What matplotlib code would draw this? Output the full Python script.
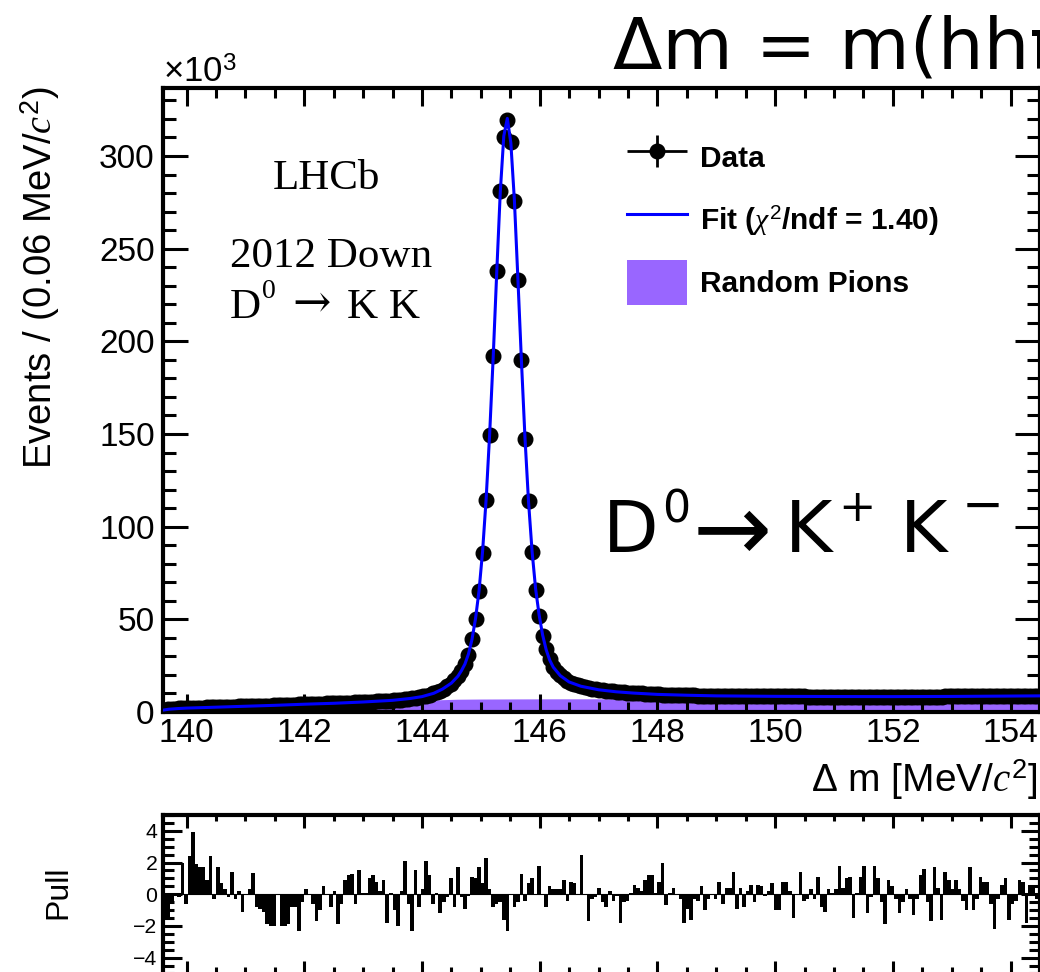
import numpy as np
import matplotlib
matplotlib.use("Agg")
import matplotlib.pyplot as plt
from matplotlib.ticker import MultipleLocator
from matplotlib.container import ErrorbarContainer
from matplotlib.legend_handler import HandlerErrorbar

plt.rcParams['font.family'] = ['Liberation Sans', 'DejaVu Sans']
plt.rcParams['mathtext.fontset'] = 'custom'
plt.rcParams['mathtext.rm'] = 'Liberation Sans'
plt.rcParams['mathtext.it'] = 'Liberation Serif:italic'
plt.rcParams['mathtext.bf'] = 'Liberation Sans:bold'

# delta-m histogram, 0.06 MeV bins from 139.60 to 154.48, events in units of 1e3
dm_lo, dm_hi = 139.6, 154.5
bin_w = 0.06
counts = [
    1.2, 1.5, 1.7, 1.8, 1.9, 2.0, 2.05, 2.1, 2.2, 2.25,
    2.3, 2.4, 2.45, 2.5, 2.55, 2.6, 2.7, 2.75, 2.8, 2.85,
    2.9, 3.0, 3.05, 3.1, 3.15, 3.2, 3.3, 3.35, 3.4, 3.45,
    3.5, 3.6, 3.65, 3.7, 3.8, 3.85, 3.9, 4.0, 4.05, 4.1,
    4.2, 4.25, 4.3, 4.4, 4.45, 4.5, 4.6, 4.65, 4.7, 4.8,
    4.85, 4.9, 5.0, 5.1, 5.15, 5.2, 5.3, 5.4, 5.5, 5.6,
    5.7, 5.8, 5.9, 6.0, 6.2, 6.3, 6.5, 6.7, 6.9, 7.1,
    7.4, 7.7, 8.0, 8.4, 8.9, 9.4, 10.0, 10.7, 11.6, 12.6,
    13.8, 15.3, 17.1, 19.3, 22.2,
    25.7, 31.0, 39.6, 50.0, 65.4, 86.0, 114.4, 149.6, 192.0, 238.0,
    281.0, 310.0, 319.5, 307.7, 275.8, 233.0, 189.7, 147.4, 114.0, 86.5,
    66.0, 51.9, 41.0, 33.8, 28.4,
    24.5, 21.8, 19.7, 18.1, 16.8, 15.8, 15.0, 14.3, 13.8, 13.3,
    12.9, 12.6, 12.3, 12.0, 11.8, 11.5, 11.3, 11.1, 10.9, 10.8,
    10.6, 10.5, 10.3, 10.2, 10.1, 10.0, 9.9, 9.8, 9.7, 9.6,
    9.5, 9.4, 9.35, 9.3, 9.25, 9.2, 9.15, 9.1, 9.05, 9.0,
    8.95, 8.9, 8.85, 8.8, 8.8, 8.75, 8.7, 8.7, 8.65, 8.6,
    8.6, 8.6, 8.55, 8.55, 8.55, 8.5, 8.5, 8.5, 8.5, 8.45,
    8.45, 8.45, 8.45, 8.45, 8.4, 8.4, 8.4, 8.4, 8.4, 8.4,
    8.4, 8.4, 8.35, 8.35, 8.35, 8.35, 8.35, 8.35, 8.35, 8.35,
    8.3, 8.3, 8.3, 8.3, 8.3, 8.3, 8.3, 8.3, 8.3, 8.3,
    8.3, 8.3, 8.3, 8.3, 8.3, 8.3, 8.3, 8.3, 8.3, 8.3,
    8.3, 8.3, 8.3, 8.3, 8.3, 8.35, 8.35, 8.35, 8.35, 8.35,
    8.35, 8.4, 8.4, 8.4, 8.4, 8.4, 8.45, 8.45, 8.45, 8.45,
    8.5, 8.5, 8.5, 8.5, 8.55, 8.55, 8.55, 8.6, 8.6, 8.6,
    8.6, 8.65, 8.65, 8.65, 8.7, 8.7, 8.7, 8.7,
]

# total fit curve
fit_dm = [139.6, 139.7, 139.85, 140.0, 140.5, 141.0, 141.5, 142.0, 142.5, 143.0,
          143.5, 143.8, 144.0, 144.2, 144.35, 144.5, 144.61,
          144.67, 144.73, 144.79, 144.85, 144.91, 144.97, 145.03, 145.09, 145.15,
          145.21, 145.27, 145.33, 145.39, 145.45, 145.51, 145.57, 145.63, 145.69,
          145.75, 145.81, 145.87, 145.93, 145.99, 146.05, 146.11, 146.17, 146.23,
          146.35, 146.5, 146.7, 147.0, 147.3, 147.6, 148.0, 148.5, 149.0, 150.0,
          151.0, 152.0, 153.0, 154.0, 154.5]
fit_val = [1.0, 1.5, 1.85, 2.1, 2.6, 3.1, 3.6, 4.2, 4.7, 5.4,
           6.3, 7.3, 8.3, 10.1, 12.4, 15.6, 19.3,
           22.3, 25.9, 31.3, 39.2, 50.4, 65.6, 86.8, 114.9, 150.2,
           191.5, 237.2, 280.4, 310.8, 320.3, 307.0, 276.2, 233.5, 189.2,
           147.9, 113.6, 86.9, 66.6, 52.4, 41.5, 33.6, 28.0, 24.2,
           19.6, 16.2, 13.9, 12.0, 10.9, 10.2, 9.5, 9.05, 8.7, 8.45,
           8.35, 8.3, 8.4, 8.6, 8.7]

# random pion background component
rp_dm = [139.6, 139.7, 140.0, 140.5, 141.0, 141.5, 142.0, 142.5, 143.0, 143.5,
         144.0, 144.3, 144.6, 145.0, 146.0, 148.0, 150.0, 152.0, 154.5]
rp_val = [0.3, 0.7, 1.1, 1.6, 2.1, 2.6, 3.1, 3.7, 4.3, 4.9,
          6.0, 6.6, 6.9, 7.0, 7.1, 7.2, 7.2, 7.2, 7.2]

# pull per bin
pulls = [
    -1.6, -1.5, -0.4, 0.1, -0.2, 2.0, -0.6, 2.4, 3.9, 1.9,
    1.7, 1.7, 0.9, 2.4, -0.3, 1.7, 0.7, 0.35, -0.2, 1.4,
    -0.3, 0.2, -1.1, 0.0, 0.3, 1.35, -0.8, -0.9, -1.1, -1.9,
    -2.0, -2.0, 0.0, -2.0, -2.0, -1.9, -0.8, -0.8, -2.3, -0.5,
    0.3, 0.0, -0.6, -1.7, -1.0, 0.5, 0.0, -0.8, 0.2, -1.9,
    -0.6, 0.9, 1.2, 1.3, -0.6, 1.5, 0.1, 0.1, 1.0, 1.2,
    0.8, 0.2, 0.9,
    -1.8, 0.1, -1.0, -2.0, 0.2, 2.1, -0.6, -2.3, 1.5, -0.8,
    0.3, 2.1, 1.2, -0.6, 0.1, -1.2, -0.5, -0.2, 1.0, -0.8,
    1.7, -0.2, -0.9, -0.1, 1.1, 1.0, 1.7, 0.7, 2.3, 0.3,
    -0.8, -0.6, -0.5, -1.6, -2.3, 0.0, -0.8, -0.5, 1.3, -0.4,
    0.7, 1.0, 0.0, 1.8, 0.0, -0.8, 0.5, 0.3, 0.3, 0.3,
    0.9, -0.4, 0.8, 0.7, 0.0, 2.5, 0.0, -1.7, -0.3, -0.2,
    0.4, -0.5,
    -0.8, 0.2, -0.4, -0.1, -1.8, -0.5, -0.4, 0.1, 0.6, 0.4,
    0.2, 0.9, 1.2, 1.2, 0.1, 0.8, 2.0, -0.7, 0.1, 0.4,
    0.0, -0.3, -1.8, -0.9, -1.6, -0.3, -0.4, 0.5, -1.0, -0.3,
    0.0, -0.3, 0.8, -0.6, 0.4, 0.4, 1.4, -0.9, 0.4, -0.8,
    0.2, 0.6, -0.5, 0.6, 0.5, -0.1, 0.2, 0.7, -1.0, -1.0,
    0.8, 0.8, 0.2, -1.5, 0.0, 1.4, -0.4, -0.3, 0.3, -0.3,
    1.1, -0.8,
    -1.1, 0.3, 0.1, 0.3, 1.8, 0.4, 1.0, 1.1, -1.5, 0.1,
    1.1, 1.8, -1.2, -0.2, 1.8, 1.0, -0.5, -1.9, 0.9, 0.5,
    -0.3, -1.2, -0.5, 0.3, -0.3, -1.3, -0.3, 1.2, 1.6, -0.5,
    -1.7, 1.7, 0.4, -1.6, 1.4, 0.9, 0.3, 0.9, 0.3, -0.4,
    -1.0, 1.7, -1.0, -0.3, 1.1, 0.8, 0.8, -0.6, -2.2, -0.3,
    0.6, 1.0, -1.6, -0.6, -0.4, 0.9, 0.8, -1.8, 0.6, 0.4,
    -0.3,
]
assert len(counts) == len(pulls)

centers = dm_lo + bin_w * (np.arange(len(counts)) + 0.5)
counts = np.array(counts)
errs = np.sqrt(counts * 1000.0) / 1000.0

W, H = 1040, 972


def fx(x):
    return x / W


def fy(y):
    return 1 - y / H


fig = plt.figure(figsize=(W / 100, H / 100), dpi=100)
ax = fig.add_axes([fx(163), fy(712), (1040 - 163) / W, (712 - 88) / H])
axp = fig.add_axes([fx(163), fy(973.5), (1040 - 163) / W, (973.5 - 815) / H])

violet = '#9966ff'
rp = ax.fill_between(rp_dm, 0, rp_val, color=violet, lw=0, zorder=1,
                     label='Random Pions')
data = ax.errorbar(centers, counts, xerr=bin_w / 2, yerr=errs, fmt='o',
                   color='black', ms=10.5, elinewidth=2, capsize=0, zorder=2,
                   label='Data')
fit, = ax.plot(fit_dm, fit_val, color='blue', lw=2.2, zorder=3,
               label=r'Fit ($\chi^{2}$/ndf = 1.40)')

ax.set_xlim(dm_lo, dm_hi)
ax.set_ylim(0, 336.7)
ax.xaxis.set_major_locator(MultipleLocator(2))
ax.xaxis.set_minor_locator(MultipleLocator(0.5))
ax.yaxis.set_major_locator(MultipleLocator(50))
ax.yaxis.set_minor_locator(MultipleLocator(10))
ax.tick_params(which='both', direction='in', top=True, right=True,
               width=2.2, labelsize=24)
ax.tick_params(axis='y', which='major', length=18, pad=6)
ax.tick_params(axis='y', which='minor', length=9.5)
ax.tick_params(axis='x', which='major', length=13, pad=4)
ax.tick_params(axis='x', which='minor', length=7)
for s in ax.spines.values():
    s.set_linewidth(3)

leg = ax.legend([data, fit, rp], ['Data', r'Fit ($\chi^{2}$/ndf = 1.40)', 'Random Pions'],
                loc='upper left', bbox_to_anchor=(fx(627), fy(135)),
                bbox_transform=fig.transFigure, frameon=False,
                prop={'family': 'Liberation Sans', 'weight': 'bold', 'size': 21.5},
                handlelength=2.0, handleheight=1.95, handletextpad=0.44,
                labelspacing=0.58, borderpad=0, borderaxespad=0,
                handler_map={ErrorbarContainer: HandlerErrorbar(xerr_size=1.0, yerr_size=0.55)})

# pull panel
axp.bar(centers, pulls, width=bin_w, color='black', lw=0)
axp.axhline(0, color='black', lw=0.8)
axp.set_xlim(dm_lo, dm_hi)
axp.set_ylim(-5, 5)
axp.xaxis.set_major_locator(MultipleLocator(2))
axp.xaxis.set_minor_locator(MultipleLocator(0.5))
axp.yaxis.set_major_locator(MultipleLocator(2))
axp.yaxis.set_minor_locator(MultipleLocator(0.5))
axp.tick_params(which='both', direction='in', top=True, right=True,
                width=2.2, labelsize=15.3, labelbottom=False)
axp.tick_params(axis='y', which='major', length=14, pad=4)
axp.tick_params(axis='y', which='minor', length=8)
axp.tick_params(axis='x', which='major', length=9)
axp.tick_params(axis='x', which='minor', length=4)
for s in axp.spines.values():
    s.set_linewidth(3)

# axis titles
fig.text(fx(40), fy(86), r'Events / (0.06 MeV/$c^{2}$)', rotation=90,
         ha='center', va='top', fontsize=27.5)
fig.text(fx(1038), fy(792), r'$\Delta$ m [MeV/$c^{2}$]', ha='right',
         va='baseline', fontsize=28)
fig.text(fx(58), fy(892), 'Pull', rotation=90, ha='center', va='center',
         fontsize=23)
fig.text(fx(163), fy(83), r'$\times$10$^{3}$', ha='left', va='baseline',
         fontsize=25)

# labels inside the frame
serif = ['Liberation Serif', 'DejaVu Serif']
fig.text(fx(273), fy(189), 'LHCb', family=serif, fontsize=31, va='baseline')
fig.text(fx(230), fy(267), '2012 Down', family=serif, fontsize=31, va='baseline')
fig.text(fx(230), fy(318), 'D', family=serif, fontsize=31, va='baseline')
fig.text(fx(262), fy(298), '0', family=serif, fontsize=20, va='baseline')
fig.text(fx(292), fy(316), '\u2192', family='DejaVu Serif', fontsize=33, va='baseline')
fig.text(fx(347), fy(318), 'K K', family=serif, fontsize=31, va='baseline')

# big header and decay mode label
big = 'DejaVu Sans'
fig.text(fx(613), fy(68), '\u0394m = m(hh\u03c0) \u2212 m(hh)', family=big,
         fontsize=52, va='baseline')
fig.text(fx(603), fy(552), 'D', family=big, fontsize=52, va='baseline')
fig.text(fx(662), fy(522), '0', family=big, fontsize=32, va='baseline')
fig.text(fx(693), fy(560), '\u2192', family=big, fontsize=68, va='baseline')
fig.text(fx(785), fy(552), 'K', family=big, fontsize=52, va='baseline')
fig.text(fx(838), fy(521), '+', family=big, fontsize=32, va='baseline')
fig.text(fx(900), fy(552), 'K', family=big, fontsize=52, va='baseline')
fig.text(fx(962), fy(521), '\u2212', family=big, fontsize=36, va='baseline')

fig.savefig('out.png', dpi=100)
